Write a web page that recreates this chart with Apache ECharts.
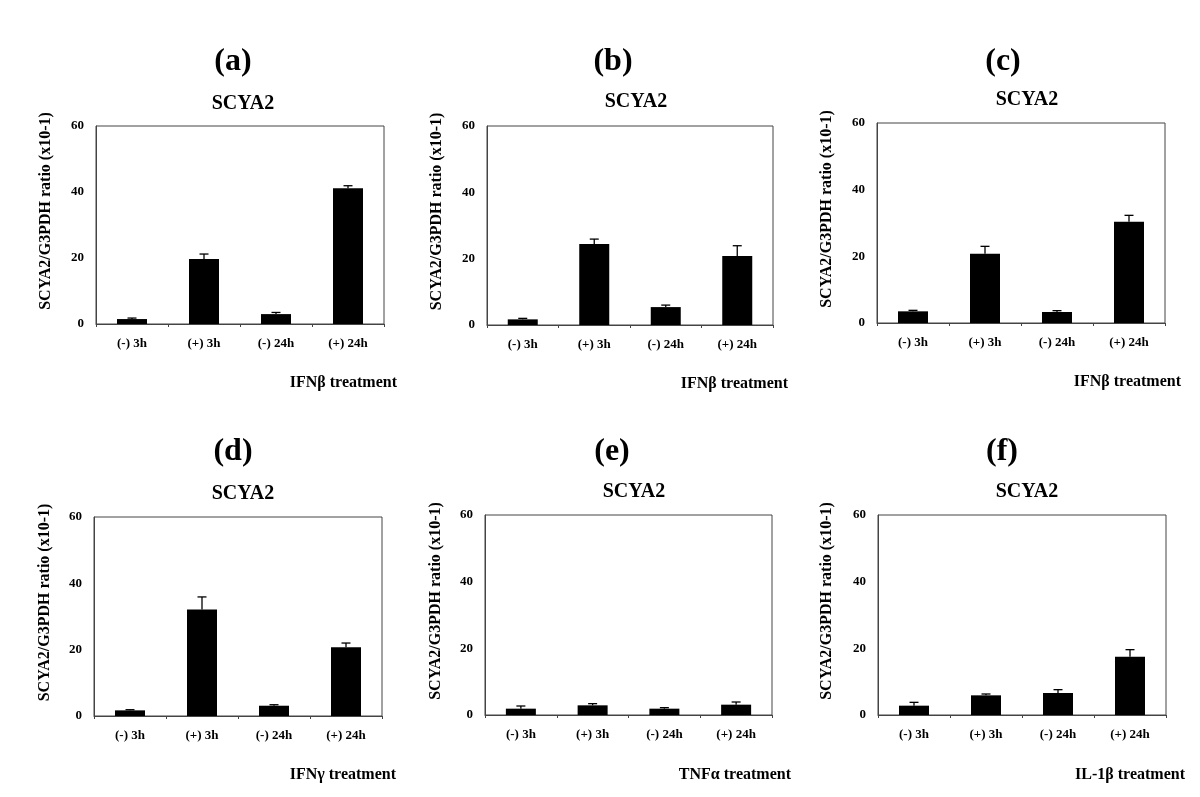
<!DOCTYPE html>
<html><head><meta charset="utf-8">
<script src="https://cdn.jsdelivr.net/npm/echarts@6/dist/echarts.min.js"></script>
<style>html,body{margin:0;padding:0;background:#fff}#c{width:1200px;height:797px}</style>
</head><body><div id="c"></div>
<script>
// ---- data ----
const categories = ['(-) 3h', '(+) 3h', '(-) 24h', '(+) 24h'];
const panelLabels = ['(a)', '(b)', '(c)', '(d)', '(e)', '(f)'];
const panelTitle = 'SCYA2';
const yAxisTitle = 'SCYA2/G3PDH ratio (x10-1)';
const treatments = ['IFNβ treatment', 'IFNβ treatment', 'IFNβ treatment', 'IFNγ treatment', 'TNFα treatment', 'IL-1β treatment'];
const yTicks = [0, 20, 40, 60];

const valuesA = [1.5, 19.7, 3.0, 41.1];
const errorsA = [0.3, 1.5, 0.5, 0.8];
const valuesB = [1.7, 24.4, 5.4, 20.8];
const errorsB = [0.3, 1.5, 0.6, 3.1];
const valuesC = [3.5, 20.8, 3.3, 30.4];
const errorsC = [0.3, 2.2, 0.4, 1.9];
const valuesD = [1.7, 32.1, 3.1, 20.7];
const errorsD = [0.2, 3.8, 0.3, 1.3];
const valuesE = [1.9, 2.9, 1.9, 3.1];
const errorsE = [0.8, 0.5, 0.3, 0.8];
const valuesF = [2.8, 5.9, 6.6, 17.5];
const errorsF = [1.0, 0.4, 1.0, 2.1];

const panelValues = [valuesA, valuesB, valuesC, valuesD, valuesE, valuesF];
const panelErrors = [errorsA, errorsB, errorsC, errorsD, errorsE, errorsF];

// ---- layout (pixels) ----
const layout = [
  {l: 96,  r: 384,  t: 126, b: 324, lx: 233,  ly: 62,  sx: 243,  sy: 104, tx: 397,  ty: 383, yt: 46},
  {l: 487, r: 773,  t: 126, b: 325, lx: 613,  ly: 62,  sx: 636,  sy: 102, tx: 788,  ty: 384, yt: 437},
  {l: 877, r: 1165, t: 123, b: 323, lx: 1003, ly: 62,  sx: 1027, sy: 100, tx: 1181, ty: 382, yt: 827},
  {l: 94,  r: 382,  t: 517, b: 716, lx: 233,  ly: 452, sx: 243,  sy: 494, tx: 396,  ty: 775, yt: 45},
  {l: 485, r: 772,  t: 515, b: 715, lx: 612,  ly: 452, sx: 634,  sy: 492, tx: 791,  ty: 775, yt: 436},
  {l: 878, r: 1166, t: 515, b: 715, lx: 1002, ly: 452, sx: 1027, sy: 492, tx: 1185, ty: 775, yt: 827}
];

const FONT = '"Liberation Serif", "Times New Roman", serif';
const grids = [], xAxes = [], yAxes = [], series = [], graphics = [];

layout.forEach((p, i) => {
  grids.push({left: p.l, top: p.t, width: p.r - p.l, height: p.b - p.t,
    show: true, borderColor: '#444', borderWidth: 1, backgroundColor: 'transparent', containLabel: false});
  xAxes.push({type: 'category', gridIndex: i, data: categories,
    axisLine: {lineStyle: {color: '#444', width: 1}},
    axisTick: {show: true, length: 3, alignWithLabel: false, lineStyle: {color: '#444'}},
    axisLabel: {color: '#000', fontFamily: FONT, fontWeight: 'bold', fontSize: 13, margin: 13}});
  yAxes.push({type: 'value', gridIndex: i, min: yTicks[0], max: yTicks[yTicks.length - 1], interval: yTicks[1] - yTicks[0],
    axisLine: {show: true, lineStyle: {color: '#444', width: 1}},
    axisTick: {show: false}, splitLine: {show: false},
    axisLabel: {color: '#000', fontFamily: FONT, fontWeight: 'bold', fontSize: 13, margin: 12}});
  series.push({type: 'bar', xAxisIndex: i, yAxisIndex: i, data: panelValues[i], barWidth: 30,
    itemStyle: {color: '#000'}, z: 2});
  series.push({type: 'custom', xAxisIndex: i, yAxisIndex: i, z: 3,
    data: categories.map((c, k) => [k, panelValues[i][k], panelErrors[i][k]]),
    renderItem: function (params, api) {
      const x = api.value(0), v = api.value(1), e = api.value(2);
      const p0 = api.coord([x, v]);
      const p1 = api.coord([x, v + e]);
      const st = {stroke: '#000', lineWidth: 1.3};
      return {type: 'group', children: [
        {type: 'line', shape: {x1: p0[0], y1: p0[1], x2: p1[0], y2: p1[1]}, style: st},
        {type: 'line', shape: {x1: p1[0] - 4.5, y1: p1[1], x2: p1[0] + 4.5, y2: p1[1]}, style: st}
      ]};
    }});
  graphics.push({type: 'text', x: p.lx, y: p.ly, style: {text: panelLabels[i], font: 'bold 32px ' + FONT,
    fill: '#000', textAlign: 'center', textVerticalAlign: 'middle'}});
  graphics.push({type: 'text', x: p.sx, y: p.sy, style: {text: panelTitle, font: 'bold 20px ' + FONT,
    fill: '#000', textAlign: 'center', textVerticalAlign: 'middle'}});
  graphics.push({type: 'text', x: p.tx, y: p.ty, style: {text: treatments[i], font: 'bold 16px ' + FONT,
    fill: '#000', textAlign: 'right', textVerticalAlign: 'middle'}});
  graphics.push({type: 'text', x: p.yt, y: (p.t + p.b) / 2 - 14, rotation: Math.PI / 2,
    style: {text: yAxisTitle, font: 'bold 16px ' + FONT, fill: '#000', textAlign: 'center', textVerticalAlign: 'middle'}});
});

const chart = echarts.init(document.getElementById('c'), null, {renderer: 'canvas'});
chart.setOption({
  backgroundColor: '#fff', animation: false,
  grid: grids, xAxis: xAxes, yAxis: yAxes, series: series, graphic: graphics
});
</script></body></html>
